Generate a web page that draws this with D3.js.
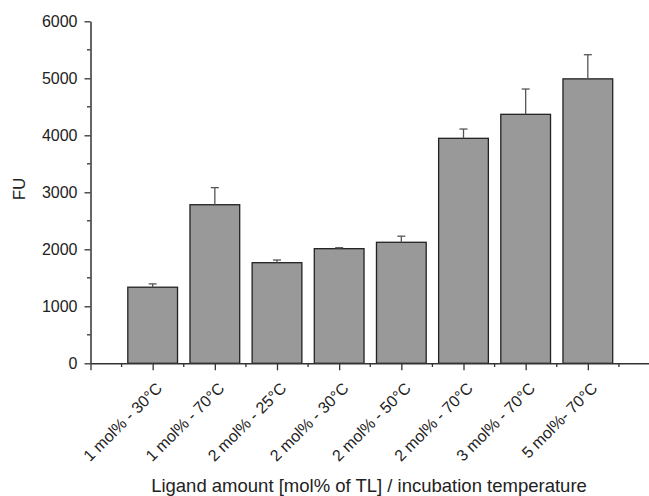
<!DOCTYPE html>
<html>
<head>
<meta charset="utf-8">
<script src="https://cdn.jsdelivr.net/npm/d3@7"></script>
<style>
body { margin: 0; background: #fff; }
text { font-family: Arial, "Liberation Sans", sans-serif; fill: #222; }
</style>
</head>
<body>
<div id="div_svg"></div>
<script>
// data
var categories = ["1 mol% - 30°C", "1 mol% - 70°C", "2 mol% - 25°C", "2 mol% - 30°C",
	"2 mol% - 50°C", "2 mol% - 70°C", "3 mol% - 70°C", "5 mol%- 70°C"];
var values = [1335, 2782, 1765, 2011, 2123, 3947, 4368, 4990];
var errors = [58, 300, 47, 17, 107, 163, 444, 424];
var yTicks = [0, 1000, 2000, 3000, 4000, 5000, 6000];

var svg = d3.select("#div_svg").append("svg").attr("id", "svg")
	.attr("width", 649).attr("height", 496);

var x = d3.scaleLinear().domain([0, 9]).range([90.5, 650]);
var y = d3.scaleLinear().domain([0, 6000]).range([363.3, 21.3]);
var barW = 0.8;

// bars
svg.selectAll("rect.bar").data(values).enter().append("rect")
	.attr("class", "bar")
	.attr("x", function(d, i) { return x(i + 1 - barW / 2); })
	.attr("width", x(barW) - x(0))
	.attr("y", function(d) { return y(d); })
	.attr("height", function(d) { return y(0) - y(d); })
	.style("fill", "#999999").style("stroke", "#222").style("stroke-width", 1.3);

// error bars (upper only)
svg.selectAll("line.err").data(values).enter().append("line")
	.attr("x1", function(d, i) { return x(i + 1); })
	.attr("x2", function(d, i) { return x(i + 1); })
	.attr("y1", function(d) { return y(d); })
	.attr("y2", function(d, i) { return y(d + errors[i]); })
	.style("stroke", "#555").style("stroke-width", 1.3);
svg.selectAll("line.cap").data(values).enter().append("line")
	.attr("x1", function(d, i) { return x(i + 1) - 4; })
	.attr("x2", function(d, i) { return x(i + 1) + 4; })
	.attr("y1", function(d, i) { return y(d + errors[i]); })
	.attr("y2", function(d, i) { return y(d + errors[i]); })
	.style("stroke", "#555").style("stroke-width", 1.3);

// y axis
var yAxis = d3.axisLeft(y).tickValues(yTicks).tickSize(6).tickSizeOuter(0)
	.tickFormat(d3.format("d")).tickPadding(7);
var gy = svg.append("g").attr("transform", "translate(90.5,0)").call(yAxis);
gy.selectAll(".tick line").style("stroke", "#333").style("stroke-width", 1.3);
gy.select(".domain").style("stroke", "#333").style("stroke-width", 1.5);
gy.selectAll("text").style("font-size", "16px").style("fill", "#222");
// minor y ticks
svg.selectAll("line.ymin").data(yTicks.slice(0, -1)).enter().append("line")
	.attr("x1", 87).attr("x2", 90.5)
	.attr("y1", function(d) { return y(d + 500); })
	.attr("y2", function(d) { return y(d + 500); })
	.style("stroke", "#333").style("stroke-width", 1.3);

// x axis
var xAxis = d3.axisBottom(x).tickValues(d3.range(0, 9)).tickSize(7).tickSizeOuter(0)
	.tickFormat(function(d) { return d > 0 ? categories[d - 1] : ""; });
var gx = svg.append("g").attr("transform", "translate(0,363.3)").call(xAxis);
gx.select(".domain").style("stroke", "#333").style("stroke-width", 1.5);
gx.selectAll(".tick line").style("stroke", "#333").style("stroke-width", 1.3);
gx.selectAll(".tick text")
	.style("font-size", "16px").style("fill", "#222")
	.attr("text-anchor", "end")
	.attr("dy", null).attr("y", 0)
	.attr("transform", "translate(10,26) rotate(-45)");
// minor x ticks
svg.selectAll("line.xmin").data(d3.range(0, 9)).enter().append("line")
	.attr("x1", function(d) { return x(d + 0.5); })
	.attr("x2", function(d) { return x(d + 0.5); })
	.attr("y1", 363.3).attr("y2", 367)
	.style("stroke", "#333").style("stroke-width", 1.3);

// axis titles
svg.append("text").attr("x", 369).attr("y", 491.5).attr("text-anchor", "middle")
	.style("font-size", "18.5px").text("Ligand amount [mol% of TL] / incubation temperature");
svg.append("text").attr("transform", "translate(25,189) rotate(-90)")
	.attr("text-anchor", "middle").style("font-size", "17px").text("FU");
</script>
</body>
</html>
